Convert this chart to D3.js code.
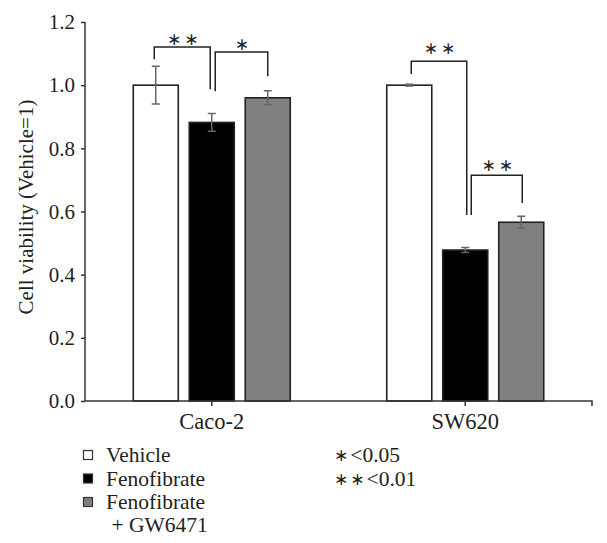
<!DOCTYPE html>
<html>
<head>
<meta charset="utf-8">
<script src="https://cdn.jsdelivr.net/npm/d3@7/dist/d3.min.js"></script>
<style>
  html, body { margin: 0; padding: 0; background: #fff; }
  svg { display: block; }
  text { font-family: "Liberation Serif", "DejaVu Serif", serif; fill: #231f20; }
</style>
</head>
<body>
<script>
// ---- data ----
const cellLines = ["Caco-2", "SW620"];
const treatments = ["Vehicle", "Fenofibrate", "Fenofibrate + GW6471"];
const treatmentColors = ["#ffffff", "#000000", "#808080"];
const vehicleMean = [1.0, 1.0];
const vehicleErr = [0.06, 0.003];
const fenofibrateMean = [0.882, 0.478];
const fenofibrateErr = [0.028, 0.008];
const comboMean = [0.960, 0.566];
const comboErr = [0.022, 0.019];
const yTicks = [0, 0.2, 0.4, 0.6, 0.8, 1.0, 1.2];
const yLabel = "Cell viability (Vehicle=1)";
// significance brackets: group, from/to treatment index, top, left leg end, right leg end (value units)
const brackets = [
  { group: "Caco-2", from: 0, to: 1, top: 1.121, leftEnd: 1.082, rightEnd: 0.987, label: "∗∗", dxFrom: -1.5, dxTo: -1.5, labelUp: 7 },
  { group: "Caco-2", from: 1, to: 2, top: 1.105, leftEnd: 0.981, rightEnd: 1.028, label: "∗", dxFrom: 3.5, dxTo: 0, labelUp: 8 },
  { group: "SW620", from: 0, to: 1, top: 1.076, leftEnd: 1.035, rightEnd: 0.589, label: "∗∗", dxFrom: 2, dxTo: 1.5, labelUp: 13 },
  { group: "SW620", from: 1, to: 2, top: 0.715, leftEnd: 0.589, rightEnd: 0.627, label: "∗∗", dxFrom: 6, dxTo: 1, labelUp: 10 }
];
const legendLabels = [["Vehicle"], ["Fenofibrate"], ["Fenofibrate", " + GW6471"]];
const pLegend = ["∗<0.05", "∗∗<0.01"];

const means = [vehicleMean, fenofibrateMean, comboMean];
const errs = [vehicleErr, fenofibrateErr, comboErr];
const rows = [];
cellLines.forEach((c, gi) => treatments.forEach((t, ti) => {
  rows.push({ group: c, ti, value: means[ti][gi], err: errs[ti][gi] });
}));

// ---- layout ----
const W = 607, H = 543;
const svg = d3.select("body").append("svg").attr("width", W).attr("height", H);

const x0 = d3.scaleBand().domain(cellLines).range([85, 592]).paddingInner(0).paddingOuter(0);
const x1 = d3.scaleBand().domain(d3.range(treatments.length)).range([-78.5, 78.5]).paddingInner(0.196).paddingOuter(0);
const y = d3.scaleLinear().domain([0, 1.2]).range([401, 22]);
const cx = (g, ti) => x0(g) + x0.bandwidth() / 2 + x1(ti) + x1.bandwidth() / 2;

// bars
svg.append("g").selectAll("rect").data(rows).join("rect")
  .attr("x", d => x0(d.group) + x0.bandwidth() / 2 + x1(d.ti))
  .attr("y", d => y(d.value))
  .attr("width", x1.bandwidth())
  .attr("height", d => y(0) - y(d.value))
  .attr("fill", d => treatmentColors[d.ti])
  .attr("stroke", "#222")
  .attr("stroke-width", 1.6);

// error bars
const eb = svg.append("g").attr("stroke", "#666").attr("stroke-width", 1.5).attr("fill", "none");
rows.forEach(d => {
  const xc = cx(d.group, d.ti);
  eb.append("path").attr("d",
    `M${xc},${y(d.value - d.err)}V${y(d.value + d.err)}` +
    `M${xc - 4},${y(d.value + d.err)}H${xc + 4}` +
    `M${xc - 4},${y(d.value - d.err)}H${xc + 4}`);
});

// axes
const yAxis = svg.append("g").attr("transform", "translate(85,0)")
  .call(d3.axisLeft(y).tickValues(yTicks).tickFormat(d3.format(".1f")).tickSize(4).tickPadding(6));
yAxis.select(".domain").attr("stroke", "#333").attr("stroke-width", 1.5).attr("d", `M0,${y(1.2)}V${y(0)}`);
yAxis.selectAll(".tick line").attr("stroke", "#333").attr("stroke-width", 1.5);
yAxis.selectAll(".tick text").style("font-family", "Liberation Serif, serif").style("font-size", "21px").attr("fill", "#231f20");

const xAxis = svg.append("g").attr("transform", `translate(0,${y(0)})`)
  .call(d3.axisBottom(x0).tickSize(5).tickPadding(7));
xAxis.select(".domain").attr("stroke", "#333").attr("stroke-width", 1.5).attr("d", `M85,0H592V5`);
xAxis.selectAll(".tick line").attr("stroke", "#333").attr("stroke-width", 1.5);
xAxis.selectAll(".tick text").style("font-family", "Liberation Serif, serif").style("font-size", "22.5px").attr("fill", "#231f20");

// y label
svg.append("text")
  .attr("transform", `translate(33,207) rotate(-90)`)
  .attr("text-anchor", "middle")
  .style("font-size", "21px")
  .text(yLabel);

// brackets
const br = svg.append("g");
brackets.forEach(b => {
  const xa = cx(b.group, b.from) + b.dxFrom;
  const xb = cx(b.group, b.to) + b.dxTo;
  br.append("path")
    .attr("d", `M${xa},${y(b.leftEnd)}V${y(b.top)}H${xb}V${y(b.rightEnd)}`)
    .attr("fill", "none").attr("stroke", "#222").attr("stroke-width", 1.5);
  br.append("text")
    .attr("x", (xa + xb) / 2 + 2)
    .attr("y", y(b.top) - b.labelUp + 5.5)
    .attr("text-anchor", "middle")
    .style("font-family", "DejaVu Sans, sans-serif")
    .style("font-size", "17px")
    .style("letter-spacing", "3px")
    .text(b.label);
});

// legend
const lg = svg.append("g");
legendLabels.forEach((lines, i) => {
  const yy = 450 + i * 23.5;
  lg.append("rect").attr("x", 83.5).attr("y", yy + 0.5).attr("width", 9).attr("height", 9)
    .attr("fill", treatmentColors[i]).attr("stroke", "#333").attr("stroke-width", 1.2);
  lines.forEach((ln, j) => {
    lg.append("text").attr("x", 106).attr("y", yy + 12 + j * 22.5)
      .style("font-size", "21.5px").attr("xml:space", "preserve").style("white-space", "pre").text(ln);
  });
});
pLegend.forEach((t, i) => {
  const m = t.match(/^(∗+)(.*)$/);
  const tx = svg.append("text").attr("x", 334).attr("y", 462 + i * 23.5).style("font-size", "21.5px");
  tx.append("tspan").style("font-family", "DejaVu Sans, sans-serif").style("font-size", "17px").style("letter-spacing", "2px").attr("dy", -1).text(m[1]);
  tx.append("tspan").attr("dy", 1).text(m[2]);
});
</script>
</body>
</html>
